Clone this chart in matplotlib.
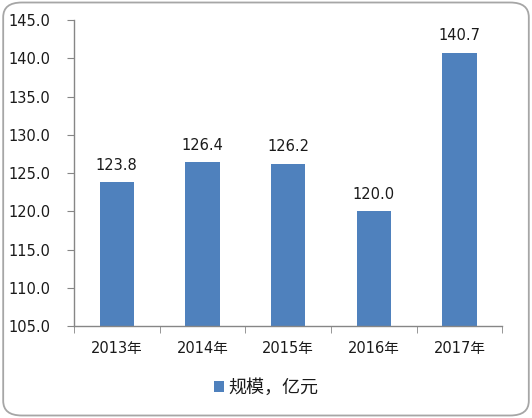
import matplotlib
matplotlib.use("Agg")
import matplotlib.pyplot as plt
from matplotlib.patches import FancyBboxPatch

plt.rcParams['font.family'] = ['DejaVu Sans', 'Noto Sans CJK SC']

categories = ["2013年", "2014年", "2015年", "2016年", "2017年"]
values = [123.8, 126.4, 126.2, 120.0, 140.7]
series_name = "规模，亿元"
yticks = [105.0, 110.0, 115.0, 120.0, 125.0, 130.0, 135.0, 140.0, 145.0]

bar_color = "#4F81BD"
text_color = "#1a1a1a"

fig = plt.figure(figsize=(5.32, 4.18), dpi=100)
fig.patch.set_facecolor("white")
border = FancyBboxPatch((0.006, 0.006), 0.988, 0.988,
                        boxstyle="round,pad=0,rounding_size=0.035",
                        transform=fig.transFigure, facecolor="none",
                        edgecolor="#A6A6A6", linewidth=1.3, zorder=-10)
fig.patches.append(border)

ax = fig.add_axes([0.139, 0.220, 0.805, 0.732])
ax.set_facecolor("none")
x = list(range(len(categories)))
bars = ax.bar(x, values, width=0.4, color=bar_color, zorder=2, label=series_name)

ax.set_ylim(105, 145)
ax.set_xlim(-0.5, len(categories) - 0.5)
ax.set_yticks(yticks)
ax.set_yticklabels([f"{v:.1f}" for v in yticks], fontsize=10.5, color=text_color)
ax.set_xticks(x)
ax.set_xticklabels(categories, fontsize=10.5, color=text_color)
ax.tick_params(axis='x', length=0, pad=11)
ax.set_xticks([i - 0.5 for i in range(len(categories) + 1)], minor=True)
ax.tick_params(axis='x', which='minor', length=5, color="#868686", direction='out')
ax.tick_params(axis='y', length=5, color="#868686", direction='out', pad=12)

for s in ['top', 'right']:
    ax.spines[s].set_visible(False)
for s in ['left', 'bottom']:
    ax.spines[s].set_color("#868686")
    ax.spines[s].set_linewidth(1.0)

for xi, v in zip(x, values):
    ax.annotate(f"{v:.1f}", (xi, v), xytext=(0, 7), textcoords="offset points",
                ha='center', va='bottom', fontsize=10.5, color=text_color)

leg = fig.legend(handles=[bars], labels=[series_name], loc='center',
                 bbox_to_anchor=(0.50, 0.072), frameon=False, fontsize=13,
                 handlelength=0.55, handleheight=0.55, handletextpad=0.25)
for t in leg.get_texts():
    t.set_color(text_color)

fig.savefig("out.png", dpi=100, facecolor="white")
